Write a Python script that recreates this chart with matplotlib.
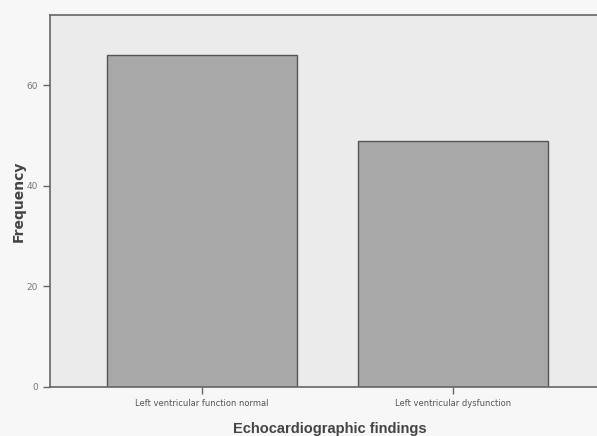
import matplotlib
matplotlib.use("Agg")
import matplotlib.pyplot as plt

categories = ["Left ventricular function normal", "Left ventricular dysfunction"]
frequencies = [66, 49]
yticks = [0, 20, 40, 60]

fig = plt.figure(figsize=(5.97, 4.36), dpi=100)
fig.patch.set_facecolor("#f7f7f7")
ax = fig.add_axes([50/597, 1-387/436, 560/597, (387-15)/436])
ax.set_facecolor("#ebebeb")

x = list(range(len(categories)))
ax.bar(x, frequencies, width=0.757, color="#a8a8a8", edgecolor="#555555", linewidth=1.0, zorder=2)

ax.set_xlim(-0.606, 1.625)
ax.set_ylim(0, 74)
ax.set_yticks(yticks)
ax.set_xticks(x)
ax.set_xticklabels(categories, fontsize=6, color="#555555")
ax.tick_params(axis="y", labelsize=6.5, labelcolor="#777777", color="#666666", length=5, width=1)
ax.tick_params(axis="x", color="#666666", length=5, width=1)

for side in ["left", "bottom", "top"]:
    ax.spines[side].set_color("#666666")
    ax.spines[side].set_linewidth(1.2)
ax.spines["right"].set_visible(False)

ax.set_ylabel("Frequency", fontsize=10, fontweight="bold", color="#444444", labelpad=1)
ax.set_xlabel("Echocardiographic findings", fontsize=10.5, fontweight="bold", color="#444444",
              labelpad=10, family=["Liberation Sans", "DejaVu Sans"])

fig.savefig("out.png", dpi=100, facecolor=fig.get_facecolor())
